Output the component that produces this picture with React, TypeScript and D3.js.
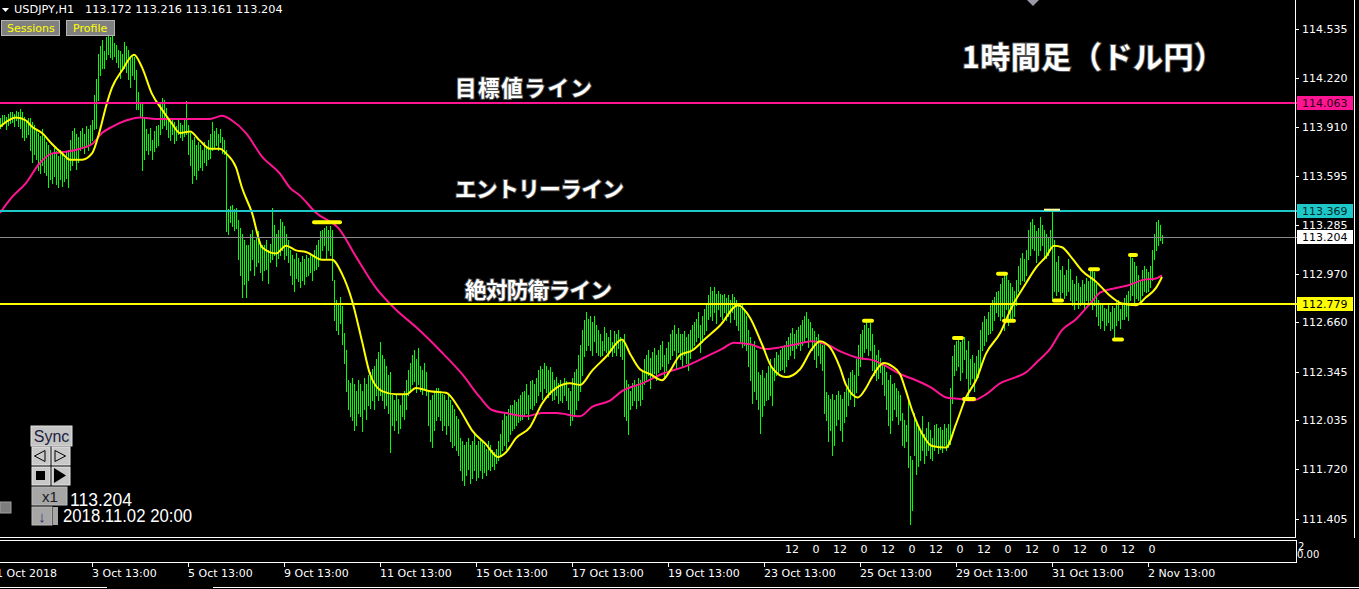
import React from "react";
import * as d3 from "d3";

// ---------- DATA ----------
const symbolTitle = "USDJPY,H1";
const lastOHLC = ["113.172", "113.216", "113.161", "113.204"];

const highs = [
  113.96,113.98,113.98,113.97,113.99,114.00,114.00,113.99,114.01,114.00,
  114.02,114.00,113.97,113.95,113.96,113.96,113.94,113.92,113.89,113.87,
  113.85,113.89,113.84,113.81,113.79,113.76,113.73,113.77,113.75,113.72,
  113.76,113.73,113.71,113.75,113.76,113.82,113.88,113.90,113.86,113.84,
  113.88,113.90,113.86,113.91,113.89,113.92,113.95,114.11,114.21,114.37,
  114.42,114.46,114.39,114.48,114.49,114.48,114.51,114.44,114.43,114.40,
  114.39,114.37,114.45,114.42,114.40,114.36,114.36,114.35,114.27,114.13,
  114.06,114.06,113.97,113.89,113.86,113.90,113.82,113.88,113.91,113.92,
  114.05,114.09,114.08,114.03,113.95,113.93,113.96,113.94,113.91,113.95,
  113.93,113.92,113.95,114.07,113.92,113.87,113.82,113.84,113.79,113.81,
  113.79,113.76,113.81,113.77,113.82,113.86,113.94,113.88,113.90,113.86,
  113.89,113.84,113.82,113.76,113.38,113.40,113.41,113.38,113.39,113.31,
  113.26,113.22,113.18,113.15,113.15,113.22,113.25,113.18,113.20,113.24,
  113.17,113.15,113.15,113.18,113.12,113.16,113.39,113.28,113.22,113.25,
  113.32,113.30,113.27,113.22,113.18,113.12,113.09,113.06,113.10,113.07,
  113.04,113.08,113.06,113.09,113.07,113.10,113.09,113.12,113.15,113.18,
  113.24,113.25,113.26,113.27,113.25,113.27,113.25,112.93,112.80,112.77,
  112.82,112.76,112.59,112.48,112.29,112.27,112.30,112.26,112.22,112.29,
  112.26,112.22,112.30,112.26,112.32,112.34,112.36,112.38,112.42,112.47,
  112.53,112.45,112.42,112.38,112.32,112.34,112.19,112.16,112.20,112.17,
  112.13,112.19,112.22,112.29,112.35,112.40,112.45,112.48,112.42,112.49,
  112.38,112.35,112.40,112.34,112.22,112.16,112.19,112.21,112.24,112.24,
  112.22,112.20,112.19,112.16,112.19,112.16,112.13,112.10,112.06,112.04,
  111.92,111.90,111.87,111.89,111.92,111.87,111.90,111.94,111.87,111.90,
  111.92,111.89,111.87,111.85,111.90,111.87,111.84,111.83,111.85,111.90,
  111.94,112.03,112.08,112.06,112.10,112.13,112.13,112.16,112.15,112.17,
  112.19,112.21,112.22,112.26,112.19,112.28,112.29,112.26,112.30,112.35,
  112.38,112.36,112.40,112.38,112.35,112.37,112.34,112.29,112.31,112.27,
  112.29,112.26,112.30,112.28,112.24,112.22,112.30,112.34,112.36,112.45,
  112.51,112.61,112.67,112.72,112.68,112.70,112.66,112.70,112.64,112.61,
  112.58,112.54,112.63,112.59,112.56,112.61,112.53,112.60,112.58,112.61,
  112.56,112.54,112.58,112.29,112.26,112.22,112.27,112.29,112.26,112.30,
  112.29,112.34,112.42,112.45,112.48,112.43,112.47,112.49,112.45,112.48,
  112.51,112.54,112.45,112.49,112.53,112.58,112.61,112.64,112.58,112.62,
  112.58,112.58,112.60,112.56,112.58,112.61,112.64,112.66,112.68,112.72,
  112.64,112.70,112.74,112.77,112.83,112.88,112.86,112.88,112.84,112.86,
  112.84,112.83,112.84,112.81,112.83,112.80,112.84,112.82,112.80,112.78,
  112.75,112.77,112.74,112.70,112.61,112.56,112.51,112.54,112.48,112.34,
  112.32,112.35,112.30,112.33,112.38,112.42,112.36,112.43,112.47,112.45,
  112.48,112.49,112.51,112.54,112.56,112.59,112.62,112.58,112.61,112.63,
  112.64,112.67,112.70,112.72,112.68,112.66,112.62,112.60,112.56,112.58,
  112.54,112.51,112.52,112.21,112.19,112.17,112.20,112.16,112.19,112.22,
  112.19,112.17,112.21,112.24,112.30,112.34,112.35,112.32,112.42,112.51,
  112.58,112.61,112.64,112.66,112.62,112.65,112.58,112.51,112.45,112.48,
  112.43,112.40,112.38,112.34,112.29,112.32,112.26,112.27,112.24,112.22,
  112.19,112.08,112.03,112.00,112.18,111.80,111.78,112.08,112.03,112.00,
  111.97,112.06,111.94,111.98,112.02,111.97,111.92,112.00,112.01,111.98,
  111.99,111.97,112.01,111.98,112.01,112.24,112.44,112.51,112.54,112.56,
  112.53,112.55,112.56,112.48,112.54,112.42,112.45,112.40,112.44,112.48,
  112.61,112.66,112.70,112.68,112.72,112.77,112.80,112.82,112.85,112.86,
  112.90,112.94,112.97,112.96,112.93,112.91,112.88,112.86,112.93,113.02,
  113.07,113.10,113.06,113.12,113.25,113.30,113.32,113.28,113.24,113.26,
  113.33,113.28,113.25,113.22,113.20,113.25,113.38,113.18,113.04,113.08,
  112.99,113.02,112.96,112.99,113.06,113.00,112.93,112.90,112.95,112.91,
  112.88,112.93,112.90,112.94,112.92,112.99,113.00,112.98,112.90,112.80,
  112.77,112.78,112.75,112.74,112.77,112.72,112.76,112.75,112.79,112.80,
  112.74,112.78,112.81,112.83,112.86,113.09,113.07,113.04,113.02,112.96,
  112.93,112.99,113.02,113.00,112.98,113.02,113.12,113.22,113.30,113.31,
  113.28,113.216,
];

const lows = [
  113.90,113.91,113.93,113.89,113.92,113.93,113.94,113.91,113.95,113.91,
  113.90,113.84,113.82,113.84,113.86,113.76,113.68,113.73,113.70,113.63,
  113.61,113.66,113.62,113.60,113.52,113.57,113.55,113.59,113.54,113.52,
  113.57,113.53,113.56,113.58,113.52,113.63,113.66,113.70,113.64,113.68,
  113.76,113.77,113.74,113.78,113.76,113.79,113.82,113.89,113.90,114.08,
  114.24,114.28,114.28,114.34,114.37,114.35,114.34,114.36,114.32,114.29,
  114.22,114.27,114.28,114.26,114.21,114.16,114.24,114.21,114.02,114.02,
  113.97,113.63,113.70,113.76,113.73,113.76,113.70,113.75,113.78,113.79,
  113.86,113.90,113.92,113.89,113.84,113.82,113.86,113.80,113.82,113.86,
  113.84,113.82,113.85,113.86,113.73,113.66,113.55,113.60,113.57,113.63,
  113.65,113.63,113.68,113.66,113.70,113.71,113.76,113.77,113.79,113.76,
  113.81,113.74,113.73,113.24,113.22,113.30,113.27,113.25,113.26,113.06,
  112.96,112.82,112.90,112.82,112.93,112.99,113.06,112.96,113.02,113.04,
  112.98,112.93,112.99,113.00,112.91,113.04,113.06,113.09,113.02,113.07,
  113.09,113.12,113.06,113.09,113.04,112.96,112.90,112.86,112.94,112.92,
  112.88,112.93,112.90,112.95,112.96,112.98,112.93,112.99,113.00,113.02,
  113.07,113.12,113.15,113.07,113.12,113.09,112.93,112.67,112.61,112.58,
  112.65,112.52,112.40,112.22,112.10,112.06,112.03,111.97,112.00,112.08,
  112.06,111.96,112.10,112.04,112.13,112.11,112.16,112.10,112.19,112.16,
  112.19,112.16,112.11,112.13,112.08,111.83,112.00,111.97,112.03,111.95,
  111.98,112.06,112.04,112.10,112.19,112.22,112.26,112.28,112.21,112.26,
  112.22,112.20,112.24,112.19,112.00,111.90,111.86,111.97,112.03,112.06,
  112.03,111.97,112.00,111.94,112.00,111.90,111.86,111.87,111.84,111.81,
  111.71,111.65,111.62,111.68,111.72,111.63,111.66,111.71,111.65,111.67,
  111.71,111.66,111.70,111.68,111.72,111.71,111.74,111.72,111.76,111.78,
  111.81,111.84,111.87,111.85,111.90,111.94,111.97,111.98,112.00,112.02,
  112.03,112.04,112.06,112.08,112.04,112.11,112.10,112.13,112.15,112.19,
  112.22,112.17,112.24,112.21,112.18,112.20,112.16,112.17,112.19,112.14,
  112.16,112.15,112.19,112.16,112.10,112.00,112.03,112.06,112.10,112.16,
  112.22,112.32,112.44,112.48,112.51,112.48,112.45,112.54,112.47,112.45,
  112.44,112.45,112.48,112.47,112.44,112.48,112.44,112.47,112.45,112.49,
  112.44,112.42,112.06,112.03,111.94,112.10,112.13,112.16,112.11,112.16,
  112.13,112.17,112.26,112.29,112.32,112.24,112.30,112.33,112.29,112.34,
  112.36,112.38,112.31,112.35,112.40,112.42,112.45,112.48,112.36,112.47,
  112.42,112.38,112.45,112.40,112.35,112.43,112.48,112.51,112.54,112.56,
  112.47,112.53,112.58,112.61,112.68,112.70,112.67,112.72,112.65,112.74,
  112.70,112.68,112.72,112.67,112.70,112.66,112.72,112.68,112.64,112.61,
  112.54,112.50,112.51,112.48,112.38,112.29,112.14,112.22,112.17,112.10,
  111.95,112.06,112.13,112.16,112.17,112.19,112.13,112.29,112.32,112.34,
  112.35,112.36,112.34,112.38,112.42,112.45,112.48,112.43,112.49,112.51,
  112.48,112.51,112.54,112.56,112.50,112.54,112.48,112.42,112.37,112.45,
  112.40,112.35,112.08,112.03,111.90,111.97,111.81,111.87,112.00,112.04,
  111.97,111.90,112.02,112.06,112.13,112.17,112.19,112.12,112.21,112.32,
  112.38,112.42,112.47,112.49,112.45,112.48,112.35,112.32,112.29,112.30,
  112.34,112.26,112.19,112.10,112.00,111.95,112.03,112.10,112.06,112.01,
  112.03,111.87,111.86,111.90,111.73,111.37,111.46,111.81,111.69,111.74,
  111.78,111.84,111.76,111.81,111.84,111.79,111.78,111.84,111.87,111.82,
  111.85,111.83,111.87,111.84,111.86,111.88,112.14,112.32,112.35,112.38,
  112.29,112.34,112.42,112.30,112.18,112.26,112.30,112.22,112.29,112.31,
  112.38,112.48,112.51,112.54,112.58,112.59,112.61,112.67,112.72,112.70,
  112.67,112.70,112.61,112.74,112.64,112.67,112.68,112.70,112.77,112.86,
  112.90,112.93,112.92,112.96,113.06,113.09,113.13,113.12,113.04,113.09,
  113.12,113.15,113.06,113.07,113.09,113.12,112.80,112.86,112.83,112.86,
  112.80,112.85,112.81,112.83,112.86,112.80,112.77,112.74,112.80,112.75,
  112.77,112.79,112.74,112.80,112.77,112.80,112.74,112.77,112.70,112.64,
  112.62,112.67,112.61,112.64,112.66,112.61,112.62,112.55,112.64,112.67,
  112.62,112.68,112.68,112.70,112.67,112.80,112.83,112.77,112.81,112.80,
  112.78,112.83,112.86,112.85,112.86,112.88,112.93,113.06,113.12,113.15,
  113.18,113.161,
];

// fast (yellow) moving average, sampled at bar indices
const fastMaBars = [0,4,8,13,16,21,26,31,35,41,46,50,53,56,61,67,71,76,81,86,90,95,100,105,110,113,118,121,126,131,138,143,148,153,161,166,171,176,181,185,191,198,203,208,215,223,230,236,243,249,253,258,265,271,278,285,290,296,303,311,315,320,325,331,335,340,346,353,360,369,375,381,386,393,400,406,410,415,420,423,429,433,436,442,446,450,453,456,461,466,473,478,483,488,493,500,506,513,518,523,527,531,536,541,548,555,561,568,573,578,581];
const fastMaValues = [113.91,113.95,113.97,113.95,113.91,113.87,113.80,113.74,113.70,113.70,113.74,113.89,114.04,114.16,114.27,114.37,114.29,114.12,114.02,113.93,113.87,113.88,113.82,113.77,113.77,113.74,113.65,113.52,113.36,113.14,113.10,113.15,113.12,113.11,113.06,113.06,112.97,112.80,112.54,112.33,112.22,112.20,112.20,112.24,112.22,112.21,112.10,111.97,111.88,111.80,111.83,111.92,111.99,112.14,112.24,112.27,112.26,112.35,112.44,112.55,112.46,112.36,112.33,112.29,112.35,112.45,112.48,112.56,112.64,112.77,112.69,112.52,112.37,112.31,112.36,112.49,112.54,112.50,112.37,112.26,112.18,112.24,112.31,112.40,112.38,112.33,112.22,112.10,111.95,111.87,111.86,112.01,112.18,112.29,112.46,112.59,112.76,112.91,113.01,113.08,113.15,113.14,113.07,112.99,112.92,112.83,112.78,112.77,112.82,112.88,112.95];

// slow (pink) moving average, sampled at bar indices
const slowMaBars = [0,6,13,20,26,33,40,46,51,56,63,70,78,91,105,111,116,123,131,140,145,150,158,170,178,188,198,208,220,231,240,246,253,263,271,278,290,296,305,311,321,331,343,353,361,367,375,383,390,398,406,413,421,430,436,443,450,458,466,473,480,486,493,500,508,513,518,525,531,538,545,550,558,565,571,578,581];
const slowMaValues = [113.36,113.46,113.55,113.68,113.74,113.75,113.77,113.80,113.87,113.91,113.95,113.97,113.96,113.96,113.96,113.98,113.95,113.87,113.72,113.61,113.52,113.47,113.36,113.25,113.08,112.88,112.74,112.63,112.48,112.33,112.18,112.10,112.08,112.06,112.08,112.08,112.06,112.12,112.16,112.22,112.27,112.33,112.38,112.44,112.49,112.53,112.52,112.49,112.50,112.52,112.54,112.52,112.47,112.43,112.42,112.38,112.33,112.29,112.24,112.18,112.17,112.16,112.20,112.27,112.31,112.34,112.40,112.49,112.61,112.68,112.78,112.85,112.88,112.90,112.93,112.94,112.96];

// swing markers (short yellow dashes)
const markerStart = [156, 431, 476, 481, 498, 501, 522, 526, 544, 556, 564];
const markerEnd = [171, 437, 482, 488, 504, 508, 530, 532, 550, 562, 569];
const markerPrice = [113.30, 112.67, 112.56, 112.17, 112.97, 112.67, 113.38, 112.80, 113.00, 112.55, 113.09];

// horizontal levels
const levelPrices = [114.063, 113.369, 113.204, 112.779];
const levelNames = ["目標値ライン", "エントリーライン", "", "絶対防衛ライン"];

const priceTicks = [114.535, 114.220, 113.910, 113.595, 113.285, 112.970, 112.660, 112.345, 112.035, 111.720, 111.405];

const timeLabels = ["1 Oct 2018","3 Oct 13:00","5 Oct 13:00","9 Oct 13:00","11 Oct 13:00","15 Oct 13:00","17 Oct 13:00","19 Oct 13:00","23 Oct 13:00","25 Oct 13:00","29 Oct 13:00","31 Oct 13:00","2 Nov 13:00"];
const timeLabelBars = [0,46,94,142,190,238,286,334,382,430,478,526,574];

const sessionLabels = ["12","0","12","0","12","0","12","0","12","0","12","0","12","0","12","0"];
const sessionBars = [396,408,420,432,444,456,468,480,492,504,516,528,540,552,564,576];

const chartTitle = "1時間足（ドル円）";
const lastPrice = "113.204";
const lastTime = "2018.11.02 20:00";

// ---------- STYLE ----------
const W = 1359;
const H = 589;
const AXIS_X = 1295.5;
const levelColors = ["#ff1493", "#1ec8c8", "#8a8a8a", "#ffff00"];
const levelWidths = [2, 2, 1, 2];
const tagFills = ["#ff1493", "#1ec8c8", "#ffffff", "#ffff00"];
const tagText = ["#2a0014", "#002a2a", "#000000", "#000000"];
const labelX = [455, 455, 0, 465];
const labelBaseline = [95.5, 196.5, 0, 297.5];
const labelWidth = [137, 169, 0, 147];
const axisFont = "'DejaVu Sans', sans-serif";
const jpFont = "'Noto Sans CJK JP', sans-serif";

export default function App() {
  const xS = d3.scaleLinear().domain([0, 581]).range([0, 1162]);
  const yS = d3.scaleLinear().domain([111.405, 114.535]).range([518.7, 29]);
  const n = Math.min(highs.length, lows.length);

  const barPath = d3
    .range(n)
    .map((i) => {
      const px = Math.round(xS(i)) + 0.5;
      return `M${px},${Math.floor(yS(highs[i]))}V${Math.ceil(yS(lows[i]))}`;
    })
    .join("");

  const maLine = (bars: number[], vals: number[]) =>
    d3
      .line<number>()
      .x((_, k) => xS(bars[k]))
      .y((v) => yS(v))
      .curve(d3.curveMonotoneX)(vals) || "";

  const fmt = d3.format(".3f");

  return (
    <svg
      width={W}
      height={H}
      style={{ position: "absolute", left: 0, top: 0, display: "block", background: "#000" }}
    >
      <rect x={0} y={0} width={W} height={H} fill="#000" />

      {/* price bars */}
      <path d={barPath} stroke="#00ff00" strokeWidth={1} fill="none" shapeRendering="crispEdges" />

      {/* moving averages */}
      <path d={maLine(slowMaBars, slowMaValues)} stroke="#ff1493" strokeWidth={2} fill="none" />
      <path d={maLine(fastMaBars, fastMaValues)} stroke="#ffff00" strokeWidth={2} fill="none" />

      {/* horizontal levels */}
      {levelPrices.map((p, k) => {
        const yy = Math.round(yS(p));
        const lw = levelWidths[k];
        return (
          <rect
            key={"lv" + k}
            x={0}
            y={lw === 2 ? yy - 1 : yy}
            width={AXIS_X + 2}
            height={lw}
            fill={levelColors[k]}
            shapeRendering="crispEdges"
          />
        );
      })}

      {/* swing markers */}
      {markerStart.map((s, k) => {
        const yy = yS(markerPrice[k]);
        const thin = k === 6;
        return (
          <rect
            key={"mk" + k}
            x={xS(s)}
            y={yy - (thin ? 1 : 2)}
            width={xS(markerEnd[k]) - xS(s)}
            height={thin ? 2 : 4}
            rx={thin ? 0 : 2}
            fill={thin ? "#ffffa0" : "#ffff00"}
          />
        );
      })}

      {/* level captions */}
      {levelNames.map((t, k) =>
        t ? (
          <text
            key={"ln" + k}
            x={labelX[k]}
            y={labelBaseline[k]}
            fill="#ffffff"
            stroke="#505050"
            strokeWidth={2}
            paintOrder="stroke"
            fontFamily={jpFont}
            fontWeight={700}
            fontSize={21.5}
            textLength={labelWidth[k]}
            lengthAdjust="spacing"
          >
            {t}
          </text>
        ) : null
      )}
      <text
        x={962}
        y={68}
        fill="#ffffff"
        stroke="#505050"
        strokeWidth={2}
        paintOrder="stroke"
        fontFamily={jpFont}
        fontWeight={700}
        fontSize={30}
        textLength={262}
        lengthAdjust="spacing"
      >
        {chartTitle}
      </text>

      {/* frame */}
      <g stroke="#ffffff" strokeWidth={1} shapeRendering="crispEdges" fill="none">
        <line x1={AXIS_X} y1={0} x2={AXIS_X} y2={537.5} />
        <line x1={1354.5} y1={0} x2={1354.5} y2={537.5} />
        <line x1={0} y1={537.5} x2={1296} y2={537.5} />
        <rect x={-1} y={540.5} width={1297} height={22} />
        <line x1={0} y1={587.5} x2={107} y2={587.5} />
        <line x1={213} y1={587.5} x2={W} y2={587.5} />
      </g>

      {/* price axis */}
      {priceTicks.map((p, k) => {
        const yy = Math.round(yS(p));
        return (
          <g key={"pt" + k}>
            <line x1={1296} x2={1299} y1={yy + 0.5} y2={yy + 0.5} stroke="#fff" shapeRendering="crispEdges" />
            <text x={1302} y={yy + 4} fill="#fff" fontFamily={axisFont} fontSize={11}>
              {fmt(p)}
            </text>
          </g>
        );
      })}

      {/* level tags */}
      {levelPrices.map((p, k) => {
        const yy = Math.round(yS(p));
        return (
          <g key={"tg" + k}>
            <rect x={1297} y={yy - 7} width={56} height={14} fill={tagFills[k]} shapeRendering="crispEdges" />
            <text x={1302} y={yy + 4} fill={tagText[k]} fontFamily={axisFont} fontSize={11}>
              {fmt(p)}
            </text>
          </g>
        );
      })}

      {/* sub window labels */}
      {sessionLabels.map((t, k) => (
        <text
          key={"ss" + k}
          x={xS(sessionBars[k])}
          y={553}
          fill="#fff"
          fontFamily={axisFont}
          fontSize={11}
          textAnchor="middle"
        >
          {t}
        </text>
      ))}
      <text x={1298} y={550} fill="#fff" fontFamily={axisFont} fontSize={10}>2</text>
      <text x={1297} y={558} fill="#fff" fontFamily={axisFont} fontSize={10}>0.00</text>

      {/* time axis */}
      {timeLabels.map((t, k) => {
        const xx = Math.round(xS(timeLabelBars[k]));
        const first = k === 0;
        return (
          <g key={"tl" + k}>
            {!first && (
              <line x1={xx + 0.5} x2={xx + 0.5} y1={563} y2={567} stroke="#fff" shapeRendering="crispEdges" />
            )}
            <text x={first ? xx - 4 : xx} y={577} fill="#fff" fontFamily={axisFont} fontSize={11}>
              {t}
            </text>
          </g>
        );
      })}

      {/* header */}
      <path d="M2,8 L9,8 L5.5,12 Z" fill="#fff" />
      <text x={14} y={13} fill="#fff" fontFamily={axisFont} fontSize={11.3}>
        {symbolTitle}
      </text>
      <text x={85} y={13} fill="#fff" fontFamily={axisFont} fontSize={11.3}>
        {lastOHLC.join(" ")}
      </text>
      <rect x={1.5} y={20.5} width={58} height={15} fill="#808080" stroke="#b4b4b4" />
      <text x={7} y={32} fill="#ffff00" fontFamily={axisFont} fontSize={11}>Sessions</text>
      <rect x={66.5} y={20.5} width={48} height={15} fill="#808080" stroke="#b4b4b4" />
      <text x={73} y={32} fill="#ffff00" fontFamily={axisFont} fontSize={11}>Profile</text>
      <path d="M1027,0 L1039,0 L1033,6 Z" fill="#9a9aa6" />

      {/* sync panel */}
      <g fontFamily="'Liberation Sans', Arial, sans-serif">
        <rect x={31} y={426} width={41} height={20} fill="#c4c4c4" stroke="#e0e0e0" />
        <text x={51.5} y={442} textAnchor="middle" fontSize={16} fill="#1c1c40">Sync</text>
        <rect x={32} y={447} width={18} height={18} fill="#c8c8c8" stroke="#e6e6e6" />
        <rect x={52} y={447} width={18} height={18} fill="#c8c8c8" stroke="#e6e6e6" />
        <path d="M45,450.5 L45,461.5 L34.5,456 Z" fill="none" stroke="#000" />
        <path d="M55,450.5 L55,461.5 L65.5,456 Z" fill="none" stroke="#000" />
        <rect x={32} y={467} width={18} height={18} fill="#c8c8c8" stroke="#e6e6e6" />
        <rect x={52} y={467} width={18} height={18} fill="#c8c8c8" stroke="#e6e6e6" />
        <rect x={36} y={471} width={9} height={9} fill="#000" />
        <path d="M54,468 L54,483 L66,475.5 Z" fill="#000" />
        <rect x={32} y={487} width={35} height={18} fill="#a6a6a6" stroke="#bcbcbc" />
        <text x={50} y={502} textAnchor="middle" fontSize={15} fill="#1a1a1a">x1</text>
        <rect x={32} y={507} width={20} height={18} fill="#a6a6a6" stroke="#bcbcbc" />
        <rect x={53} y={507} width={5} height={18} fill="#a6a6a6" />
        <text x={42} y={522} textAnchor="middle" fontSize={15} fill="#303070">↓</text>
        <text x={70} y={506} fontSize={17.5} fill="#fff">{lastPrice}</text>
        <text x={63} y={522} fontSize={17.5} fill="#fff" textLength={129} lengthAdjust="spacingAndGlyphs">
          {lastTime}
        </text>
      </g>
      <rect x={0} y={502} width={11} height={11} fill="#7e7e7e" stroke="#a0a0a0" />
    </svg>
  );
}
